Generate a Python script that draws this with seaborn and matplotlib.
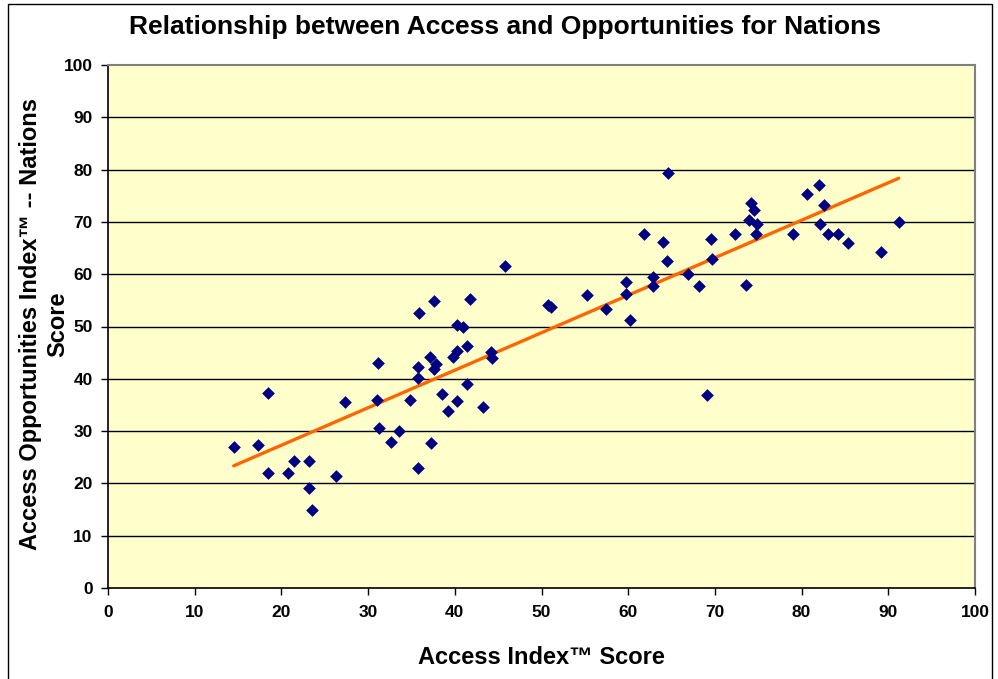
import matplotlib
matplotlib.use("Agg")
import matplotlib.pyplot as plt
from matplotlib.patches import Rectangle
import numpy as np
import pandas as pd
import seaborn as sns

# Access Index score per nation
access_index = [
    14.5, 17.3, 18.4, 18.5, 20.8, 21.4, 23.2, 23.2, 23.5, 26.3,
    27.3, 31.1, 31.0, 31.3, 32.6, 33.6, 34.8, 35.8, 35.7, 35.7,
    35.9, 37.1, 37.2, 37.6, 37.6, 37.8, 38.5, 39.2, 39.8, 40.3,
    40.3, 40.3, 40.9, 41.4, 41.4, 41.8, 43.3, 44.2, 44.3, 45.8,
    50.8, 51.1, 55.3, 57.4, 59.7, 59.7, 60.2, 61.8, 62.9, 62.9,
    64.0, 64.5, 64.6, 66.9, 68.2, 69.1, 69.6, 69.7, 72.3, 73.6,
    73.9, 74.2, 74.5, 74.9, 74.7, 79.0, 80.6, 82.0, 82.6, 82.1,
    83.1, 84.2, 85.3, 89.2, 91.2,
]

# Access Opportunities Index score per nation
opportunities_index = [
    26.9, 27.3, 37.3, 21.9, 21.9, 24.3, 24.3, 19.1, 14.9, 21.4,
    35.5, 43.0, 35.9, 30.6, 28.0, 30.0, 35.9, 22.9, 40.1, 42.2,
    52.6, 44.1, 27.8, 54.9, 41.9, 42.9, 37.0, 33.9, 44.1, 45.4,
    50.2, 35.8, 49.9, 46.3, 39.0, 55.3, 34.7, 45.2, 44.0, 61.6,
    54.2, 53.7, 56.0, 53.3, 58.5, 56.2, 51.3, 67.6, 59.5, 57.7,
    66.2, 62.6, 79.4, 60.1, 57.8, 36.9, 66.8, 62.9, 67.6, 57.9,
    70.4, 73.7, 72.3, 69.6, 67.7, 67.7, 75.4, 77.0, 73.3, 69.6,
    67.7, 67.7, 66.0, 64.2, 70.0,
]

axis_ticks = list(range(0, 101, 10))

df = pd.DataFrame({"access": access_index, "opportunities": opportunities_index})

sns.set_style("ticks")
plt.rcParams["font.family"] = ["Liberation Sans", "DejaVu Sans"]
plt.rcParams["font.weight"] = "bold"
plt.rcParams["text.color"] = "black"
plt.rcParams["axes.labelcolor"] = "black"
plt.rcParams["xtick.color"] = "black"
plt.rcParams["ytick.color"] = "black"

fig = plt.figure(figsize=(9.98, 6.79), dpi=100)
ax = fig.add_axes([108 / 998, 91 / 679, 867 / 998, 523 / 679])
ax.set_facecolor("#FFFFCC")

# horizontal gridlines
for t in axis_ticks[1:-1]:
    ax.axhline(t, color="#000000", linewidth=1.0, zorder=1)

sns.regplot(
    data=df, x="access", y="opportunities", ax=ax, ci=None, truncate=True, marker="D",
    scatter_kws=dict(s=42, color="#000080", linewidths=0, zorder=3, alpha=1),
    line_kws=dict(color="#FF6600", linewidth=2.4, zorder=2),
)

ax.set_xlim(0, 100)
ax.set_ylim(0, 100)
ax.set_xticks(axis_ticks)
ax.set_yticks(axis_ticks)
ax.tick_params(axis="both", direction="out", length=5, width=1, color="black",
               labelsize=12.5, labelcolor="black", pad=6)
for lbl in ax.get_xticklabels() + ax.get_yticklabels():
    lbl.set_fontweight("bold")
ax.tick_params(axis="x", pad=7.5)

for side in ["left", "bottom"]:
    ax.spines[side].set_color("black")
    ax.spines[side].set_linewidth(1.2)
for side in ["top", "right"]:
    ax.spines[side].set_visible(True)
    ax.spines[side].set_color("#808080")
    ax.spines[side].set_linewidth(1.5)

ax.set_xlabel("Access Index\u2122 Score", fontsize=17, fontweight="bold", va="center")
ax.xaxis.set_label_coords(0.5, (588 - 657) / 523)
ax.set_ylabel("Access Opportunities Index\u2122 -- Nations\nScore", fontsize=17,
              fontweight="bold", linespacing=1.2, va="center")
ax.yaxis.set_label_coords((44 - 108) / 867, 0.505)

fig.text(505 / 998, 1 - 27 / 679, "Relationship between Access and Opportunities for Nations",
         ha="center", va="center", fontsize=19, fontweight="bold")

# chart area frame
fig.patches.append(Rectangle((8 / 998, -0.05), 984 / 998, 1.05 - 4 / 679,
                             transform=fig.transFigure, fill=False,
                             edgecolor="black", linewidth=1.0))

fig.savefig("out.png", dpi=100, facecolor="white")
